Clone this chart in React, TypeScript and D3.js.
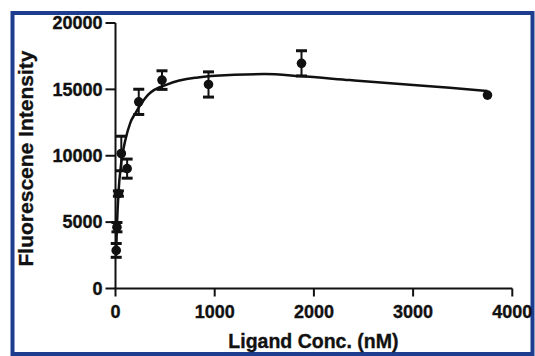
import React from "react";
import * as d3 from "d3";

const concentrations = [7.3, 14.6, 29.3, 58.6, 117.2, 234.4, 468.8, 937.5, 1875, 3750];
const meanIntensity = [2870, 4620, 7150, 10170, 9030, 14060, 15700, 15370, 16960, 14570];
const semIntensity = [520, 350, 200, 1300, 720, 950, 700, 950, 950, 0];

const fitX = [7.3, 15, 30, 60, 100, 150, 200, 330, 530, 830, 1200, 1500, 1860, 2360, 2870, 3370, 3750];
const fitY = [2900, 4800, 7200, 9600, 11200, 12500, 13200, 14600, 15400, 15900, 16100, 16150, 16000, 15700, 15400, 15120, 14870];

const xTicks = [0, 1000, 2000, 3000, 4000];
const yTicks = [0, 5000, 10000, 15000, 20000];

const W = 535;
const H = 356;

export default function App() {
  const x = d3.scaleLinear().domain([0, 4000]).range([115.5, 512.3]);
  const y = d3.scaleLinear().domain([0, 20000]).range([288.5, 23]);

  const fitPts: [number, number][] = fitX.map((v, i) => [v, fitY[i]]);
  const line = d3
    .line<[number, number]>()
    .x((d) => x(d[0]))
    .y((d) => y(d[1]))
    .curve(d3.curveMonotoneX);

  const font = "'Liberation Sans', Arial, Helvetica, sans-serif";
  const textStyle = {
    fontFamily: font,
    fontWeight: "bold" as const,
    fill: "#111",
    stroke: "#111",
    strokeWidth: 0.35,
  };

  return (
    <svg
      width={W}
      height={H}
      style={{ position: "absolute", left: 0, top: 0, background: "#ffffff" }}
    >
      <rect x={0} y={0} width={W} height={H} fill="#ffffff" />
      {/* blue frame */}
      <rect x={12.5} y={13} width={520} height={341} fill="none" stroke="#1f3d8f" strokeWidth={4} />

      {/* y axis */}
      <line x1={x(0)} x2={x(0)} y1={y(0)} y2={y(20000)} stroke="#111" strokeWidth={2} />
      {yTicks.map((t) => (
        <g key={"yt" + t}>
          <line x1={x(0) - 10} x2={x(0)} y1={y(t)} y2={y(t)} stroke="#111" strokeWidth={2} />
          <text x={x(0) - 13} y={y(t)} dy="0.35em" textAnchor="end" fontSize={18} style={textStyle}>
            {t}
          </text>
        </g>
      ))}

      {/* x axis */}
      <line x1={x(0) - 1} x2={x(4000)} y1={y(0)} y2={y(0)} stroke="#111" strokeWidth={2} />
      {xTicks.map((t) => (
        <g key={"xt" + t}>
          <line x1={x(t)} x2={x(t)} y1={y(0)} y2={y(0) + 8} stroke="#111" strokeWidth={2} />
          <text x={x(t)} y={318} textAnchor="middle" fontSize={18} style={textStyle}>
            {t}
          </text>
        </g>
      ))}

      {/* axis titles */}
      <text x={x(2000) - 0.5} y={348} textAnchor="middle" fontSize={19.5} style={textStyle}>
        Ligand Conc. (nM)
      </text>
      <text
        transform={`translate(33,158.5) rotate(-90)`}
        textAnchor="middle"
        fontSize={21}
        style={textStyle}
      >
        Fluorescene Intensity
      </text>

      {/* fit curve */}
      <path d={line(fitPts) || ""} fill="none" stroke="#111" strokeWidth={2.5} />

      {/* error bars */}
      {concentrations.map((c, i) =>
        semIntensity[i] > 0 ? (
          <g key={"eb" + i}>
            <line
              x1={x(c)}
              x2={x(c)}
              y1={y(meanIntensity[i] - semIntensity[i])}
              y2={y(meanIntensity[i] + semIntensity[i])}
              stroke="#111"
              strokeWidth={2}
            />
            <line
              x1={x(c) - 5.5}
              x2={x(c) + 5.5}
              y1={y(meanIntensity[i] + semIntensity[i])}
              y2={y(meanIntensity[i] + semIntensity[i])}
              stroke="#111"
              strokeWidth={3}
            />
            <line
              x1={x(c) - 5.5}
              x2={x(c) + 5.5}
              y1={y(meanIntensity[i] - semIntensity[i])}
              y2={y(meanIntensity[i] - semIntensity[i])}
              stroke="#111"
              strokeWidth={3}
            />
          </g>
        ) : null
      )}

      {/* points */}
      {concentrations.map((c, i) => (
        <circle key={"pt" + i} cx={x(c)} cy={y(meanIntensity[i])} r={4.8} fill="#111" />
      ))}
    </svg>
  );
}
